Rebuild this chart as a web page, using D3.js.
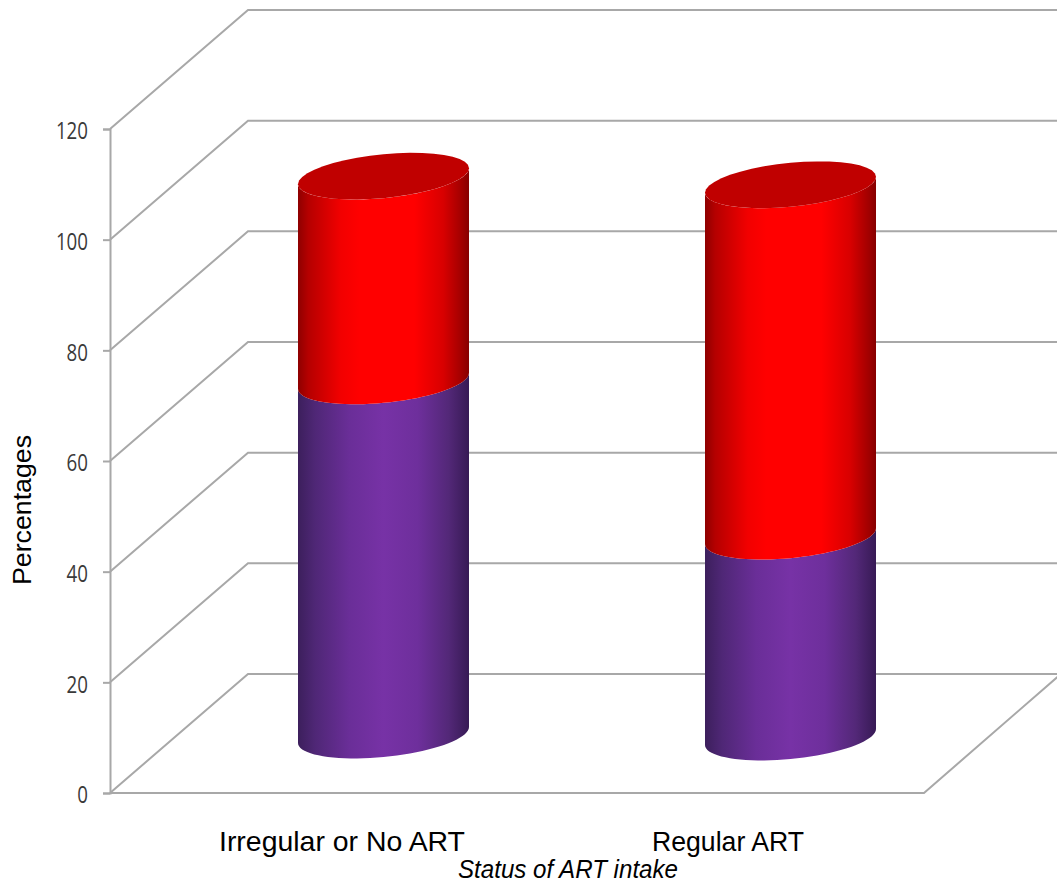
<!DOCTYPE html>
<html>
<head>
<meta charset="utf-8">
<style>
  html, body { margin: 0; padding: 0; background: #fff; overflow: hidden; }
  svg { display: block; }
  .tick text { font-family: "Open Sans", sans-serif; font-size: 23px; fill: #3a3a3a; }
  .label { font-family: "Liberation Sans", Arial, sans-serif; fill: #000; }
</style>
</head>
<body>
<svg id="chart" width="1057" height="884"></svg>
<script src="https://cdn.jsdelivr.net/npm/d3@7"></script>
<script>
// Stacked cylinders: share of patients by status of ART intake
const categories = ["Irregular or No ART", "Regular ART"];
const lowerSegment = [64, 36.3];
const upperSegment = [37, 63.5];
const yTicks = [0, 20, 40, 60, 80, 100, 120];
const yAxisTitle = "Percentages";
const xAxisTitle = "Status of ART intake";

const svg = d3.select("#chart");
const W = 1057, H = 884;

const y = d3.scaleLinear().domain([0, 120]).range([793, 129]);
const x = d3.scalePoint().domain(categories).range([383.5, 790.5]);
const xLabel = d3.scalePoint().domain(categories).range([342, 728]);

// Projection of the 3D box: the back wall sits up and to the right of the front plane
const left = 110, floorRight = 924;
const depthX = 138, depthY = -119;
const gridColor = "#a8a8a8";

// Cylinder axis sits part way into the box, with a slight drift across the floor
const axisLift = -58;
const drift = xPos => (xPos - 383.5) * (2 / 407);
const radiusX = 85.5, tiltY = 8, radiusY = 22;

const defs = svg.append("defs");
function shade(id, stops) {
  const g = defs.append("linearGradient").attr("id", id)
    .attr("x1", "0").attr("x2", "1").attr("y1", "0").attr("y2", "0");
  stops.forEach(([o, c]) => g.append("stop").attr("offset", o).attr("stop-color", c));
}
shade("redBody", [[0, "#8e0000"], [0.06, "#b50000"], [0.25, "#f20000"], [0.36, "#ff0000"], [0.68, "#ff0000"], [0.85, "#d80000"], [0.96, "#a00000"], [1, "#860000"]]);
shade("purpleBody", [[0, "#3c1f5c"], [0.1, "#4f2776"], [0.3, "#6a2e98"], [0.5, "#7732a6"], [0.7, "#6e2f9c"], [0.88, "#532878"], [1, "#371a55"]]);

// Walls and gridlines
const grid = svg.append("g").attr("fill", "none").attr("stroke", gridColor).attr("stroke-width", 2);
grid.selectAll("path.wall").data(yTicks).join("path").attr("class", "wall")
  .attr("d", d => d3.line()([[left, y(d)], [left + depthX, y(d) + depthY], [W + 2, y(d) + depthY]]));
grid.append("path").attr("d", d3.line()([[left, y(0)], [floorRight, y(0)], [floorRight + depthX, y(0) + depthY - 1]]));

// Value axis, with condensed tick digits
const axis = svg.append("g").attr("transform", `translate(${left},0)`)
  .call(d3.axisLeft(y).tickValues(yTicks).tickSize(7).tickPadding(15).tickFormat(d3.format("d")));
axis.selectAll("line").attr("stroke", gridColor).attr("stroke-width", 2);
axis.select(".domain").attr("stroke", gridColor).attr("stroke-width", 2);
axis.selectAll("text").attr("dy", "0.42em")
  .attr("textLength", d => String(d).length * 10.7).attr("lengthAdjust", "spacingAndGlyphs");

// Points along one half of the sheared ellipse around a centre
const ellipse = (cx, cy, from, to) => d3.range(0, 41).map(i => {
  const t = from + (to - from) * i / 40;
  return [cx + radiusX * Math.cos(t), cy - tiltY * Math.cos(t) - radiusY * Math.sin(t)];
});
const line = d3.line();

// Body between two levels: its lower rim bulges down, its top follows the next level
function bodyPath(cx, yBottom, yTop) {
  const lower = ellipse(cx, yBottom, Math.PI * 2, Math.PI);
  const upper = ellipse(cx, yTop, Math.PI, Math.PI * 2);
  return line(lower.concat(upper)) + "Z";
}

const columns = svg.append("g").selectAll("g").data(categories).join("g");
columns.each(function (cat, i) {
  const g = d3.select(this);
  const cx = x(cat);
  const level = v => y(v) + axisLift + drift(cx);
  const mid = lowerSegment[i], top = lowerSegment[i] + upperSegment[i];
  g.append("path").attr("d", bodyPath(cx, level(0), level(mid))).attr("fill", "url(#purpleBody)");
  g.append("path").attr("d", bodyPath(cx, level(mid), level(top))).attr("fill", "url(#redBody)");
  g.append("path").attr("d", line(ellipse(cx, level(top), 0, Math.PI * 2)) + "Z").attr("fill", "#c00000");
});

// Category labels and axis titles, condensed to their drawn widths
svg.append("g").selectAll("text").data(categories).join("text")
  .attr("class", "label").attr("x", d => xLabel(d)).attr("y", 851)
  .attr("text-anchor", "middle").attr("font-size", 28)
  .attr("textLength", (d, i) => i === 0 ? 246 : 152).attr("lengthAdjust", "spacingAndGlyphs").text(d => d);

svg.append("text").attr("class", "label")
  .attr("transform", "translate(31,510) rotate(-90)")
  .attr("text-anchor", "middle").attr("font-size", 26)
  .attr("textLength", 150).attr("lengthAdjust", "spacingAndGlyphs").text(yAxisTitle);

svg.append("text").attr("class", "label")
  .attr("x", 568).attr("y", 878).attr("text-anchor", "middle")
  .attr("font-style", "italic").attr("font-size", 26)
  .attr("textLength", 220).attr("lengthAdjust", "spacingAndGlyphs").text(xAxisTitle);
</script>
</body>
</html>
